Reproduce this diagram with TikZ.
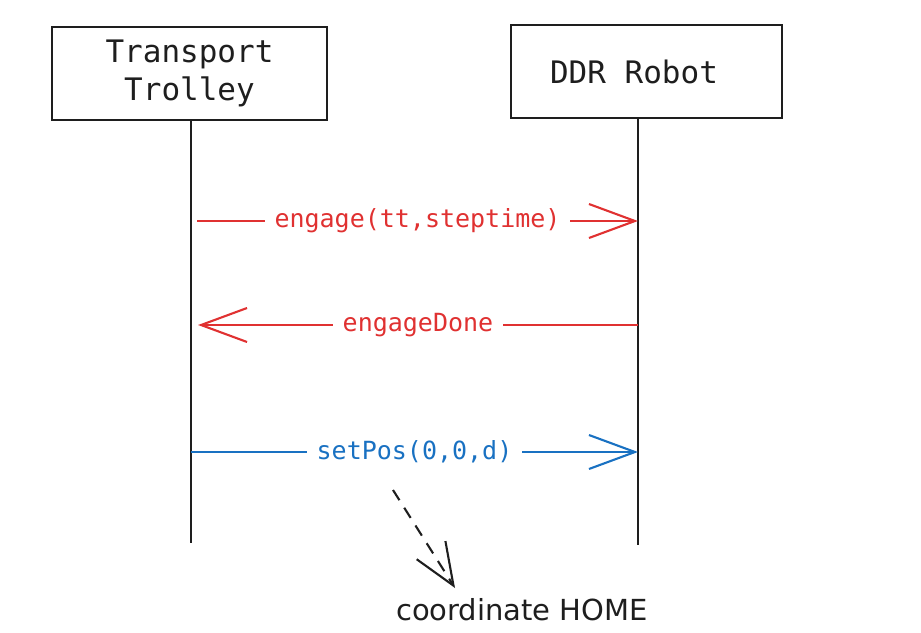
\documentclass[tikz,border=0pt]{standalone}
\usepackage{fontspec}
\setmonofont{DejaVu Sans Mono}
\newfontfamily\handfont{DejaVu Sans}
\usetikzlibrary{arrows.meta}
\definecolor{exred}{HTML}{E03131}
\definecolor{exblue}{HTML}{1971C2}
\definecolor{ink}{HTML}{1E1E1E}
\begin{document}
\begin{tikzpicture}[x=1pt,y=-1pt,
  actor/.style={draw=ink, line width=2.2pt, minimum width=275pt, minimum height=93pt, align=center, inner sep=0pt, text=ink, font=\ttfamily\fontsize{31}{38}\selectfont},
  life/.style={draw=ink, line width=2.2pt},
  msg/.style={line width=2.1pt, -{Straight Barb[length=46pt,width=34pt,line width=2.1pt]}},
  lbl/.style={fill=white, inner xsep=10pt, font=\ttfamily\fontsize{25}{28}\selectfont},
  note/.style={draw=ink, line width=2.1pt, dash pattern=on 12pt off 9pt, -{Straight Barb[length=42pt,width=34pt,line width=2.1pt]}}]
\useasboundingbox (0,0) rectangle (921,632);
\node[actor] (tt) at (189.5,73.5) {Transport\\Trolley};
\node[actor, minimum width=271pt] (ddr) at (646.5,71.5) {DDR Robot\hspace*{25pt}};
\coordinate (ttt) at (191,120);
\coordinate (ttb) at (191,543);
\coordinate (ddt) at (638,118);
\coordinate (ddb) at (638,545);
\draw[life] (ttt) -- (ttb);
\draw[life] (ddt) -- (ddb);
\coordinate (m1a) at (197,221);
\coordinate (m1b) at (638,221);
\draw[msg, exred] (m1a) -- node[lbl, text=exred] (l1) {engage(tt,steptime)} (m1b);
\coordinate (m2a) at (638,325);
\coordinate (m2b) at (198,325);
\draw[msg, exred] (m2a) -- node[lbl, text=exred] (l2) {engageDone} (m2b);
\coordinate (m3a) at (191,452);
\coordinate (m3b) at (638,452);
\draw[msg, exblue] (m3a) -- node[lbl, text=exblue] (l3) {setPos(0,0,d)} (m3b);
\coordinate (d1) at (393,490);
\coordinate (d2) at (455,588);
\draw[note] (d1) -- (d2);
\node[font=\handfont\fontsize{29}{32}\selectfont, text=ink, inner sep=0pt, anchor=base] (home) at (522,620) {coordinate HOME};
\end{tikzpicture}
\end{document}
